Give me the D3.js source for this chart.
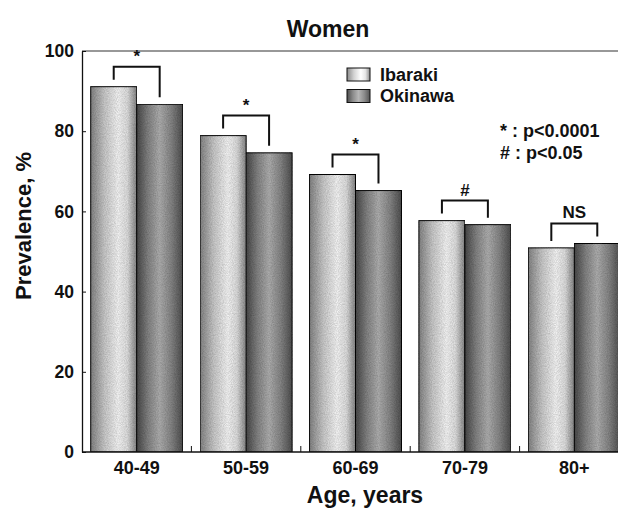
<!DOCTYPE html>
<html>
<head>
<meta charset="utf-8">
<script src="https://cdn.jsdelivr.net/npm/d3@7"></script>
<style>
  body { margin: 0; background: #fff; }
  text { font-family: "Liberation Sans", Arial, sans-serif; font-weight: bold; fill: #111; }
</style>
</head>
<body>
<svg id="chart" width="618" height="510"></svg>
<script>
// women prevalence by age group

var ageGroups = ["40-49", "50-59", "60-69", "70-79", "80+"];
var seriesNames = ["Ibaraki", "Okinawa"];
var ibaraki = [91.1, 78.9, 69.2, 57.7, 50.9];
var okinawa = [86.7, 74.6, 65.2, 56.7, 52.0];
var sigLabels = ["*", "*", "*", "#", "NS"];
var yTicks = [0, 20, 40, 60, 80, 100];
var noteLines = ["* : p<0.0001", "# : p<0.05"];

var svg = d3.select("#chart"),
    margin = {top: 51, left: 82, bottom: 58},
    height = +svg.attr("height") - margin.top - margin.bottom;

// scales
var x0 = d3.scaleBand().domain(ageGroups).range([82, 629]),
    x1 = d3.scaleBand().domain(seriesNames).range([0, x0.bandwidth()]).paddingOuter(0.19),
    y = d3.scaleLinear().domain([0, 100]).range([margin.top + height, margin.top]);

// cylinder-like shading
var defs = svg.append("defs");
var shades = {
    Ibaraki: [[0, "#8a8a8a"], [0.3, "#d2d2d2"], [0.6, "#ffffff"], [0.8, "#e6e6e6"], [1, "#8c8c8c"]],
    Okinawa: [[0, "#4c4c4c"], [0.25, "#8a8a8a"], [0.5, "#b6b6b6"], [0.75, "#8c8c8c"], [1, "#545454"]]
};
seriesNames.forEach(function(s) {
    var grad = defs.append("linearGradient")
        .attr("id", "grad-" + s)
        .attr("x1", "0").attr("x2", "1").attr("y1", "0").attr("y2", "0");
    shades[s].forEach(function(st) {
        grad.append("stop").attr("offset", st[0]).attr("stop-color", st[1]);
    });
});

// grain, the original is a dithered print
var grain = defs.append("filter").attr("id", "grain")
    .attr("x", 0).attr("y", 0).attr("width", 1).attr("height", 1);
grain.append("feTurbulence").attr("type", "fractalNoise").attr("baseFrequency", 0.9)
    .attr("numOctaves", 2).attr("seed", 3).attr("result", "noise");
grain.append("feColorMatrix").attr("in", "noise").attr("type", "matrix")
    .attr("values", "0 0 0 0 0  0 0 0 0 0  0 0 0 0 0  0 0 0 0.45 0").attr("result", "dots");
grain.append("feComposite").attr("in", "dots").attr("in2", "SourceGraphic").attr("operator", "in").attr("result", "dotsIn");
grain.append("feMerge").selectAll("feMergeNode")
    .data(["SourceGraphic", "dotsIn"]).enter()
    .append("feMergeNode").attr("in", function(d) { return d; });

var rows = ageGroups.map(function(a, i) {
    return {age: a, values: [{name: "Ibaraki", v: ibaraki[i]}, {name: "Okinawa", v: okinawa[i]}], sig: sigLabels[i]};
});

// top frame line
svg.append("line")
    .attr("x1", margin.left).attr("x2", 618)
    .attr("y1", y(100)).attr("y2", y(100))
    .attr("stroke", "#333").attr("stroke-width", 1.2);

// bars
var groups = svg.selectAll(".group")
    .data(rows)
    .enter().append("g")
    .attr("class", "group")
    .attr("transform", function(d) { return "translate(" + x0(d.age) + ",0)"; });

groups.selectAll("rect")
    .data(function(d) { return d.values; })
    .enter().append("rect")
    .attr("x", function(d) { return x1(d.name); })
    .attr("y", function(d) { return y(d.v); })
    .attr("width", x1.bandwidth())
    .attr("height", function(d) { return y(0) - y(d.v); })
    .attr("fill", function(d) { return "url(#grad-" + d.name + ")"; })
    .attr("filter", "url(#grain)")
    .attr("stroke", "#111")
    .attr("stroke-width", 1);

// significance brackets
groups.append("path")
    .attr("fill", "none")
    .attr("stroke", "#111")
    .attr("stroke-width", 2)
    .attr("d", function(d) {
        var xa = x1("Ibaraki") + x1.bandwidth() / 2,
            xb = x1("Okinawa") + x1.bandwidth() / 2,
            top = y(d3.max(d.values, function(v) { return v.v; })) - 20;
        return "M" + xa + "," + (y(d.values[0].v) - 7) + "V" + top +
               "H" + xb + "V" + (y(d.values[1].v) - 7);
    });

groups.append("text")
    .attr("x", x0.bandwidth() / 2)
    .attr("y", function(d) { return y(d3.max(d.values, function(v) { return v.v; })) - 25; })
    .attr("text-anchor", "middle")
    .style("font-size", "17px")
    .text(function(d) { return d.sig; });

// axes
var yAxis = d3.axisLeft(y).tickValues(yTicks).tickSizeInner(-4).tickSizeOuter(0).tickPadding(8);
var gy = svg.append("g")
    .attr("transform", "translate(" + margin.left + ",0)")
    .call(yAxis);
gy.select(".domain").attr("stroke", "#111").attr("stroke-width", 1.3);
gy.selectAll(".tick line").attr("stroke", "#111");
gy.selectAll("text").style("font-size", "17.5px").attr("font-family", null).attr("fill", null);

var gx = svg.append("g")
    .attr("transform", "translate(0," + y(0) + ")");
gx.append("line")
    .attr("x1", margin.left).attr("x2", 618)
    .attr("stroke", "#111").attr("stroke-width", 1.5);
gx.selectAll(".sep")
    .data(ageGroups.slice(1))
    .enter().append("line")
    .attr("class", "sep")
    .attr("x1", function(d) { return x0(d); }).attr("x2", function(d) { return x0(d); })
    .attr("y1", 0).attr("y2", -6)
    .attr("stroke", "#111");
gx.selectAll(".lab")
    .data(ageGroups)
    .enter().append("text")
    .attr("class", "lab")
    .attr("x", function(d) { return x0(d) + x0.bandwidth() / 2; })
    .attr("y", 22)
    .attr("text-anchor", "middle")
    .style("font-size", "18px")
    .text(function(d) { return d; });

// titles
svg.append("text")
    .attr("x", 328).attr("y", 37)
    .attr("text-anchor", "middle")
    .style("font-size", "23px")
    .text("Women");

svg.append("text")
    .attr("x", 365).attr("y", 503)
    .attr("text-anchor", "middle")
    .style("font-size", "23px")
    .text("Age, years");

svg.append("text")
    .attr("transform", "translate(31,226) rotate(-90)")
    .attr("text-anchor", "middle")
    .style("font-size", "22px")
    .text("Prevalence, %");

// legend
var legend = svg.selectAll(".legend")
    .data(seriesNames)
    .enter().append("g")
    .attr("class", "legend")
    .attr("transform", function(d, i) { return "translate(347," + (68 + i * 21.5) + ")"; });

legend.append("rect")
    .attr("width", 23).attr("height", 13)
    .attr("fill", function(d) { return "url(#grad-" + d + ")"; })
    .attr("stroke", "#111");

legend.append("text")
    .attr("x", 33).attr("y", 12.5)
    .style("font-size", "18px")
    .text(function(d) { return d; });

// p-value notes
svg.selectAll(".note")
    .data(noteLines)
    .enter().append("text")
    .attr("class", "note")
    .attr("x", 500)
    .attr("y", function(d, i) { return 137 + i * 22; })
    .style("font-size", "18px")
    .text(function(d) { return d; });
</script>
</body>
</html>
